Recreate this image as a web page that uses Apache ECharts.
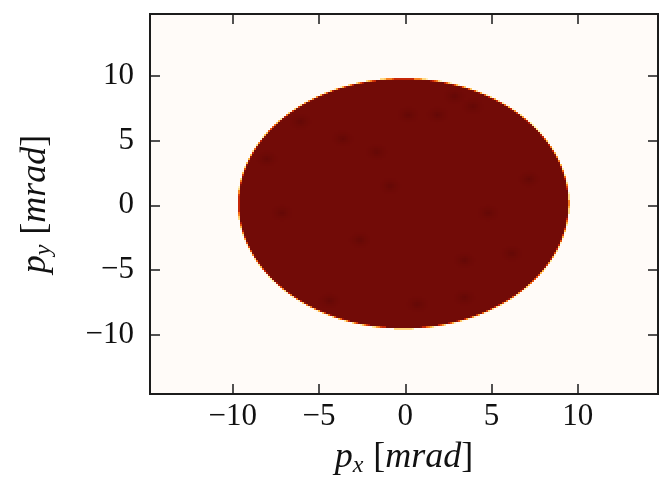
<!DOCTYPE html>
<html>
<head>
<meta charset="utf-8">
<style>
  html, body { margin: 0; padding: 0; background: #ffffff; }
  #chart { width: 670px; height: 477px; }
</style>
<script src="https://cdn.jsdelivr.net/npm/echarts@6/dist/echarts.min.js"></script>
</head>
<body>
<div id="chart"></div>
<script>
// Transverse momentum distribution of the beam spot, p_x vs p_y in mrad.

// Axis extents (mrad) and tick labels
const xRange = [-14.8, 14.65];
const yRange = [-14.6, 14.8];
const xTicks = [-10, -5, 0, 5, 10];
const yTicks = [-10, -5, 0, 5, 10];

// Beam spot: centre and half-widths (mrad)
const beamCenter = [-0.1, 0.14];
const beamRadius = [9.58, 9.67];

// Normalised intensity inside the spot, and denser patches within it
const fillLevel = 0.865;
const spotLevel = 0.925;
const spotRadius = 0.85;
const darkSpots = [
  [0.16, 7.0], [1.87, 7.0], [2.85, 8.44], [3.92, 7.65], [-6.07, 6.47],
  [-8.03, 3.6], [-0.88, 1.5], [3.43, -4.26], [4.8, -0.59], [-2.64, -2.69],
  [-4.4, -7.39], [0.69, -7.65], [3.43, -7.14], [6.18, -3.73], [7.16, 2.03],
  [-7.15, -0.59], [-1.66, 4.12], [-3.62, 5.16]
];

// Histogram binning
const NX = 254;
const NY = 190;

const dx = (xRange[1] - xRange[0]) / NX;
const dy = (yRange[1] - yRange[0]) / NY;

function insideSpot(x, y) {
  const u = (x - beamCenter[0]) / beamRadius[0];
  const v = (y - beamCenter[1]) / beamRadius[1];
  return u * u + v * v <= 1;
}

function localLevel(x, y) {
  let bump = 0;
  for (const s of darkSpots) {
    const d = Math.hypot(x - s[0], y - s[1]);
    if (d < spotRadius) {
      const t = 1 - d / spotRadius;
      bump = Math.max(bump, t * t);
    }
  }
  return fillLevel + (spotLevel - fillLevel) * bump;
}

// Bin centres with their intensity: [px, py, value]
const cells = [];
const SUB = 4;
for (let i = 0; i < NX; i++) {
  const x0 = xRange[0] + i * dx;
  for (let j = 0; j < NY; j++) {
    const y0 = yRange[0] + j * dy;
    let hit = 0;
    for (let a = 0; a < SUB; a++) {
      for (let b = 0; b < SUB; b++) {
        if (insideSpot(x0 + (a + 0.5) * dx / SUB, y0 + (b + 0.5) * dy / SUB)) hit++;
      }
    }
    if (hit === 0) continue;
    const cov = hit / (SUB * SUB);
    const cx = x0 + dx / 2, cy = y0 + dy / 2;
    cells.push([cx, cy, cov * localLevel(cx, cy)]);
  }
}

const FONT = 'Liberation Serif';
const INK = '#111111';
const fmt = v => (v < 0 ? '\u2212' + Math.abs(v) : String(v));

const tickStyle = { color: '#1a1a1a', width: 1.5 };

const nameRich = {
  i: { fontFamily: FONT, fontStyle: 'italic', fontSize: 36, color: INK },
  u: { fontFamily: FONT, fontSize: 36, color: INK },
  s: { fontFamily: FONT, fontStyle: 'italic', fontSize: 24, color: INK, padding: [16, 1, 0, 0] }
};

// One filled rectangle per bin, snapped to whole pixels
function renderBin(params, api) {
  const x = api.value(0), y = api.value(1);
  const a = api.coord([x - dx / 2, y + dy / 2]);
  const b = api.coord([x + dx / 2, y - dy / 2]);
  const x0 = Math.round(a[0]), y0 = Math.round(a[1]);
  const x1 = Math.round(b[0]), y1 = Math.round(b[1]);
  return {
    type: 'rect',
    shape: { x: x0, y: y0, width: x1 - x0, height: y1 - y0 },
    style: { fill: api.visual('color') }
  };
}

const chart = echarts.init(document.getElementById('chart'), null, { renderer: 'canvas' });

chart.setOption({
  animation: false,
  backgroundColor: '#ffffff',
  grid: {
    left: 150, top: 14, width: 508, height: 380,
    outerBoundsMode: 'none',
    containLabel: false,
    show: true, borderColor: '#1c1c1c', borderWidth: 2,
    backgroundColor: '#fffbf8'
  },
  visualMap: {
    show: false, type: 'continuous', min: 0, max: 1, seriesIndex: 0, dimension: 2,
    inRange: { color: ['#fffbf8', '#ffe9a0', '#ffb040', '#f06010', '#c02008', '#7a0c07', '#520505'] }
  },
  xAxis: [
    {
      type: 'value', min: xRange[0], max: xRange[1], position: 'bottom',
      axisLine: { show: false, onZero: false },
      splitLine: { show: false },
      axisTick: { inside: true, length: 10, customValues: xTicks, lineStyle: tickStyle },
      axisLabel: { customValues: xTicks, formatter: fmt, margin: 7, fontFamily: FONT, fontSize: 31, color: INK },
      name: '{i|p}{s|x}{u| [}{i|mrad}{u|]}',
      nameLocation: 'middle', nameGap: 44,
      nameTextStyle: { rich: nameRich }
    },
    {
      type: 'value', min: xRange[0], max: xRange[1], position: 'top',
      axisLine: { show: false, onZero: false },
      splitLine: { show: false },
      axisTick: { inside: true, length: 10, customValues: xTicks, lineStyle: tickStyle },
      axisLabel: { show: false }
    }
  ],
  yAxis: [
    {
      type: 'value', min: yRange[0], max: yRange[1], position: 'left',
      axisLine: { show: false, onZero: false },
      splitLine: { show: false },
      axisTick: { inside: true, length: 10, customValues: yTicks, lineStyle: tickStyle },
      axisLabel: { customValues: yTicks, formatter: fmt, margin: 16, fontFamily: FONT, fontSize: 31, color: INK },
      name: '{i|p}{s|y}{u| [}{i|mrad}{u|]}',
      nameLocation: 'middle', nameGap: 94, nameRotate: 90,
      nameTextStyle: { rich: nameRich }
    },
    {
      type: 'value', min: yRange[0], max: yRange[1], position: 'right',
      axisLine: { show: false, onZero: false },
      splitLine: { show: false },
      axisTick: { inside: true, length: 10, customValues: yTicks, lineStyle: tickStyle },
      axisLabel: { show: false }
    }
  ],
  series: [{
    type: 'custom',
    xAxisIndex: 0, yAxisIndex: 0,
    data: cells,
    encode: { x: 0, y: 1 },
    renderItem: renderBin,
    progressive: 0,
    silent: true
  }]
});
</script>
</body>
</html>
